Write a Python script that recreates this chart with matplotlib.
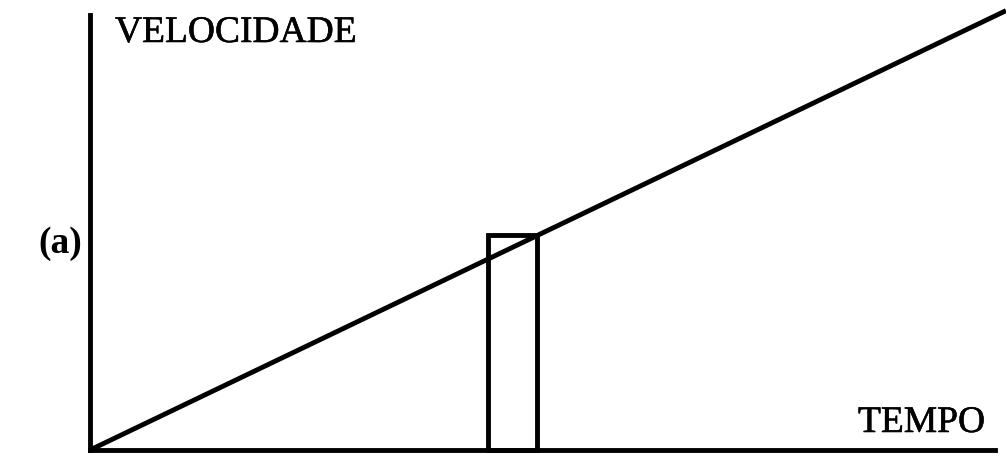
import matplotlib.pyplot as plt
import matplotlib.patheffects as pe
from matplotlib.patches import Rectangle

# velocidade cresce linearmente com o tempo
tempo = [0.0, 10.0]
velocidade = [0.0, 10.1]

# faixa estreita de tempo destacada
faixa_t0 = 4.35
faixa_t1 = 4.88
faixa_v = 4.95

W, H = 1006, 459
fig = plt.figure(figsize=(W / 100, H / 100), dpi=100)
ax = fig.add_axes([90 / W, (H - 450) / H, (W - 90) / W, 435 / H])
ax.set_xlim(0, 10)
ax.set_ylim(0, 10)

lw = 3.5
ax.plot(tempo, velocidade, color='black', lw=lw, clip_on=False, solid_capstyle='butt')
ax.add_patch(Rectangle((faixa_t0, 0), faixa_t1 - faixa_t0, faixa_v,
                       fill=False, edgecolor='black', lw=lw, clip_on=False))

for s in ['top', 'right']:
    ax.spines[s].set_visible(False)
ax.spines['left'].set_linewidth(lw)
ax.spines['bottom'].set_linewidth(lw)
ax.spines['bottom'].set_bounds(0, 9.88)
ax.set_xticks([])
ax.set_yticks([])

# traço um pouco mais grosso, como no original
grosso = [pe.withStroke(linewidth=0.4, foreground='black')]
fonte = dict(family='Liberation Serif', fontsize=27, color='black')
ax.text(115 / W, 1 - 42 / H, 'VELOCIDADE', transform=fig.transFigure, va='baseline',
        path_effects=grosso, **fonte)
ax.text(858 / W, 1 - 432 / H, 'TEMPO', transform=fig.transFigure, va='baseline',
        path_effects=grosso, **fonte)
ax.text(38 / W, 1 - 253 / H, '(a)', transform=fig.transFigure, va='baseline',
        fontweight='bold', **fonte)

fig.savefig('out.png', dpi=100)
